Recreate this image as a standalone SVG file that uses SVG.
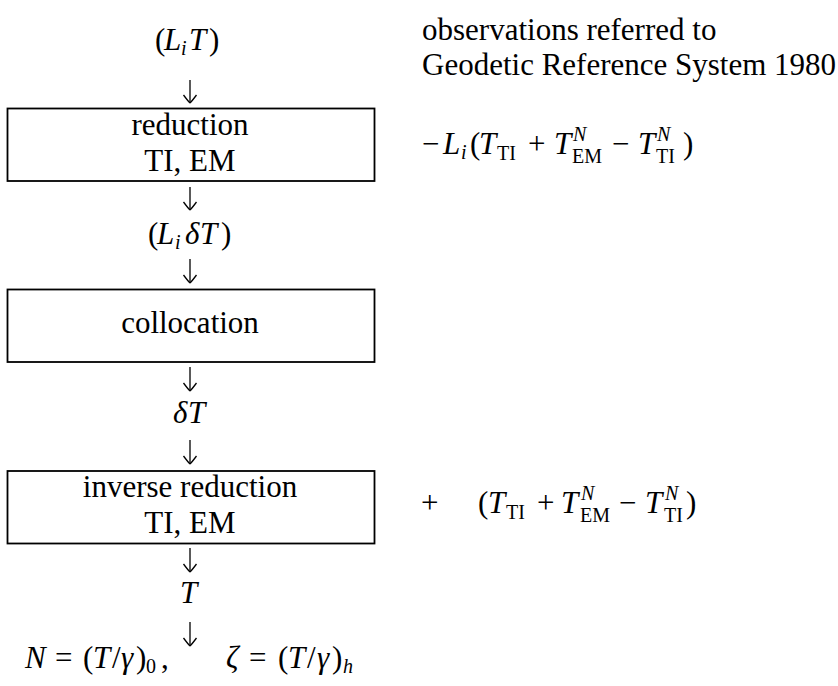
<svg xmlns="http://www.w3.org/2000/svg" width="838" height="686" viewBox="0 0 838 686">
<defs>
<style>
.t{font-family:"Liberation Serif","Times New Roman","DejaVu Serif",serif;font-size:31px;fill:#000}
.c{text-anchor:middle}
.i{font-style:italic}
.s{font-size:20px}
.box{fill:#fff;stroke:#000;stroke-width:1.8}
.arr{stroke:#000;stroke-width:1.3;fill:none}
</style>
<marker id="ah" viewBox="-10 -8 12 16" markerWidth="12" markerHeight="16" refX="0" refY="0" orient="auto" markerUnits="userSpaceOnUse">
<path d="M-8,-6.5 C-4,-3.5 -1,-1 0,0 M-8,6.5 C-4,3.5 -1,1 0,0" fill="none" stroke="#000" stroke-width="1.3"/>
</marker>
</defs>
<rect width="838" height="686" fill="#fff"/>

<g id="connectors">
<line class="arr" x1="190" y1="80" x2="190" y2="103" marker-end="url(#ah)"/>
<line class="arr" x1="190" y1="187" x2="190" y2="210" marker-end="url(#ah)"/>
<line class="arr" x1="190" y1="259" x2="190" y2="283" marker-end="url(#ah)"/>
<line class="arr" x1="190" y1="367" x2="190" y2="391" marker-end="url(#ah)"/>
<line class="arr" x1="190" y1="440" x2="190" y2="464" marker-end="url(#ah)"/>
<line class="arr" x1="190" y1="548" x2="190" y2="572" marker-end="url(#ah)"/>
<line class="arr" x1="190" y1="622" x2="190" y2="646" marker-end="url(#ah)"/>
</g>

<g id="input">
<text class="t"><tspan x="155" y="50">(</tspan><tspan class="i" x="164" y="50">L</tspan><tspan class="i s" x="181" y="55">i</tspan><tspan class="i" x="189" y="50">T</tspan><tspan x="209" y="50">)</tspan></text>
</g>

<g id="note">
<text class="t"><tspan x="422" y="40">observations referred to</tspan><tspan x="422" y="75">Geodetic Reference System 1980</tspan></text>
</g>

<g id="reduction">
<rect class="box" x="7.5" y="108.5" width="367" height="72.5"/>
<text class="t c" x="190" y="135">reduction</text>
<text class="t c" x="190" y="171">TI, EM</text>
</g>

<g id="reduction-term">
<text class="t"><tspan x="422" y="154">−</tspan><tspan class="i" x="443" y="154">L</tspan><tspan class="i s" x="461" y="159">i</tspan><tspan x="470" y="154">(</tspan><tspan class="i" x="479" y="154">T</tspan><tspan class="s" x="497" y="160">TI</tspan><tspan x="528" y="154">+</tspan><tspan class="i" x="554" y="154">T</tspan><tspan class="i s" x="573" y="141">N</tspan><tspan class="s" x="572" y="163">EM</tspan><tspan x="612" y="154">−</tspan><tspan class="i" x="638" y="154">T</tspan><tspan class="i s" x="657" y="141">N</tspan><tspan class="s" x="656" y="163">TI</tspan><tspan x="683" y="154">)</tspan></text>
</g>

<g id="residual">
<text class="t"><tspan x="148" y="244">(</tspan><tspan class="i" x="157" y="244">L</tspan><tspan class="i s" x="175" y="249">i</tspan><tspan class="i" x="185" y="244">δ</tspan><tspan class="i" x="200" y="244">T</tspan><tspan x="221" y="244">)</tspan></text>
</g>

<g id="collocation">
<rect class="box" x="7.5" y="289.5" width="367" height="72.5"/>
<text class="t c" x="190" y="333">collocation</text>
</g>

<g id="delta-t">
<text class="t"><tspan class="i" x="173" y="423">δ</tspan><tspan class="i" x="188" y="423">T</tspan></text>
</g>

<g id="inverse-reduction">
<rect class="box" x="7.5" y="471" width="367" height="72.5"/>
<text class="t c" x="190" y="497">inverse reduction</text>
<text class="t c" x="190" y="533">TI, EM</text>
</g>

<g id="restore-term">
<text class="t"><tspan x="421" y="513">+</tspan><tspan x="478" y="513">(</tspan><tspan class="i" x="488" y="513">T</tspan><tspan class="s" x="506" y="519">TI</tspan><tspan x="537" y="513">+</tspan><tspan class="i" x="561" y="513">T</tspan><tspan class="i s" x="581" y="500">N</tspan><tspan class="s" x="580" y="522">EM</tspan><tspan x="619" y="513">−</tspan><tspan class="i" x="645" y="513">T</tspan><tspan class="i s" x="665" y="500">N</tspan><tspan class="s" x="664" y="522">TI</tspan><tspan x="686" y="513">)</tspan></text>
</g>

<g id="t">
<text class="t i" x="180" y="603">T</text>
</g>

<g id="result">
<text class="t"><tspan class="i" x="25" y="668">N</tspan><tspan x="55" y="668">=</tspan><tspan x="83" y="668">(</tspan><tspan class="i" x="93" y="668">T</tspan><tspan x="112" y="668">/</tspan><tspan class="i" x="121" y="668">γ</tspan><tspan x="136" y="668">)</tspan><tspan class="s" x="146" y="673">0</tspan><tspan x="161" y="668">,</tspan><tspan class="i" x="226" y="668">ζ</tspan><tspan x="249" y="668">=</tspan><tspan x="278" y="668">(</tspan><tspan class="i" x="288" y="668">T</tspan><tspan x="307" y="668">/</tspan><tspan class="i" x="317" y="668">γ</tspan><tspan x="332" y="668">)</tspan><tspan class="i s" x="343" y="673">h</tspan></text>
</g>
</svg>
